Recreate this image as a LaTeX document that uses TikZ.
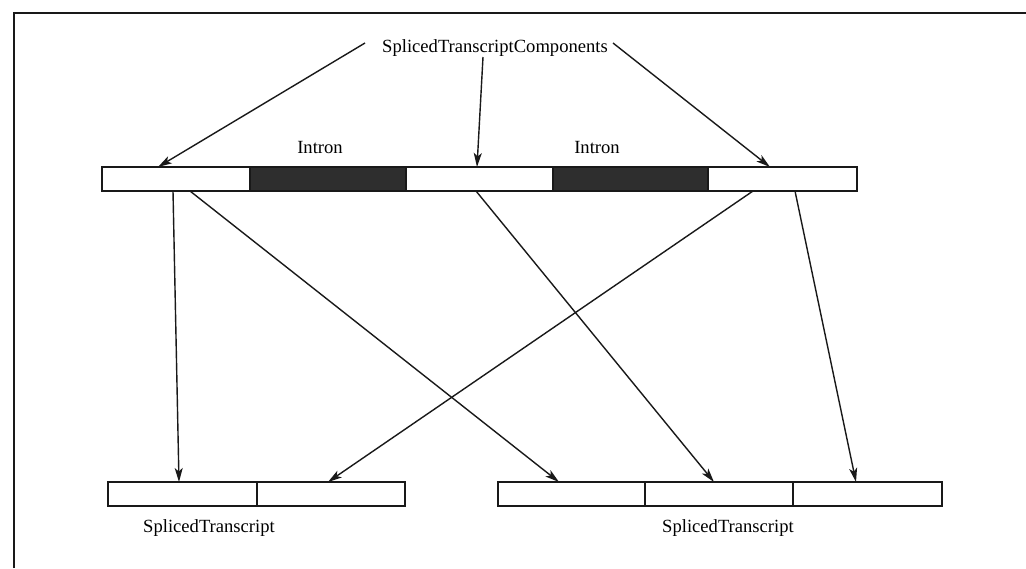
\documentclass[tikz,border=0pt]{standalone}
\usepackage{fontspec}
\setmainfont{Liberation Serif}
\usetikzlibrary{arrows.meta}
\begin{document}
\begin{tikzpicture}[x=1pt,y=-1pt,
  seg/.style={draw=black!90, line width=1.5pt, inner sep=0pt, outer sep=0pt,
              minimum height=24pt, anchor=north west, fill=white},
  intron/.style={seg, fill=black!82},
  lbl/.style={font=\fontsize{18.6}{20}\selectfont, inner sep=0pt, anchor=base},
  link/.style={line width=1.4pt, draw=black!90,
               -{Stealth[length=14pt,width=8pt,inset=3.5pt]}}]
  \useasboundingbox (0,0) rectangle (1026,568);
  % frame edges
  \draw[line width=2.2pt, black!90] (14,568) -- (14,13) -- (1026,13);

  % precursor transcript: exons and introns
  \node[seg,    minimum width=148pt] (t1) at (102,167) {};
  \node[intron, minimum width=156pt] (t2) at (250,167) {};
  \node[seg,    minimum width=147pt] (t3) at (406,167) {};
  \node[intron, minimum width=155pt] (t4) at (553,167) {};
  \node[seg,    minimum width=149pt] (t5) at (708,167) {};

  % spliced transcripts
  \node[seg, minimum width=149pt] (b1) at (108,482) {};
  \node[seg, minimum width=148pt] (b2) at (257,482) {};
  \node[seg, minimum width=147pt] (c1) at (498,482) {};
  \node[seg, minimum width=148pt] (c2) at (645,482) {};
  \node[seg, minimum width=149pt] (c3) at (793,482) {};

  % labels
  \node[lbl] (comp) at (495,52) {SplicedTranscriptComponents};
  \node[lbl] (i1) at (320,153) {Intron};
  \node[lbl] (i2) at (597,153) {Intron};
  \node[lbl] (s1) at (209,532) {SplicedTranscript};
  \node[lbl] (s2) at (728,532) {SplicedTranscript};

  % components pointing at the exons
  \draw[link] ([xshift=-130pt,yshift=9pt]comp.base) -- ([xshift=56pt]t1.north west);
  \draw[link] ([xshift=-12pt,yshift=-5pt]comp.base) -- ([xshift=71pt]t3.north west);
  \draw[link] ([xshift=118pt,yshift=9pt]comp.base) -- ([xshift=62pt]t5.north west);

  % exons mapped into the spliced transcripts
  \draw[link] ([xshift=71pt]t1.south west) -- ([xshift=71pt]b1.north west);
  \draw[link] ([xshift=88pt]t1.south west) -- ([xshift=61pt]c1.north west);
  \draw[link] ([xshift=70pt]t3.south west) -- ([xshift=69pt]c2.north west);
  \draw[link] ([xshift=45pt]t5.south west) -- ([xshift=71pt]b2.north west);
  \draw[link] ([xshift=87pt]t5.south west) -- ([xshift=63pt]c3.north west);
\end{tikzpicture}
\end{document}
